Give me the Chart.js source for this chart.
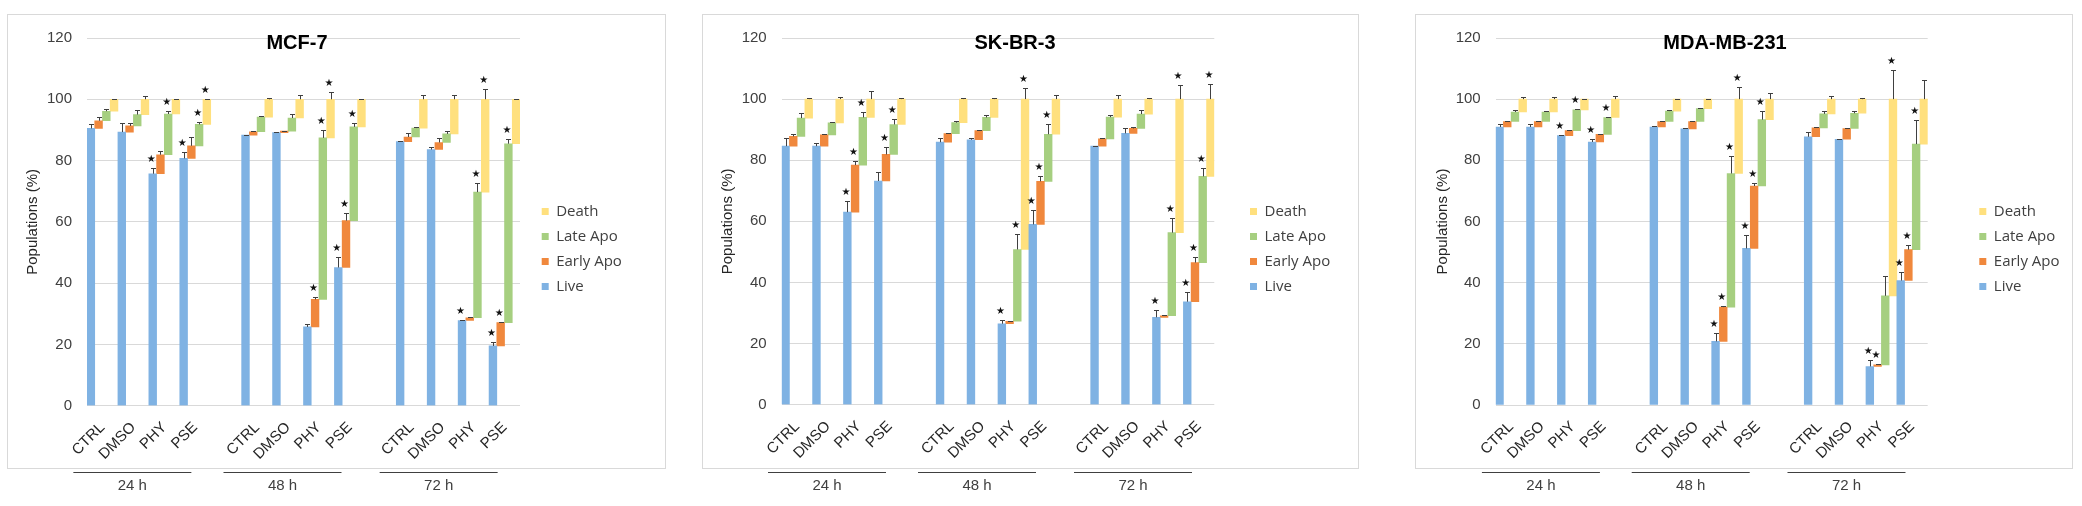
<!DOCTYPE html>
<html><head><meta charset="utf-8">
<script src="https://cdn.jsdelivr.net/npm/chart.js@4.4.1/dist/chart.umd.min.js"></script>
<style>
html,body{margin:0;padding:0;background:#fff;}
body{width:2082px;height:506px;position:relative;overflow:hidden;}
canvas{position:absolute;top:14px;}
</style></head><body>
<canvas id="c1" style="left:7px" width="659" height="492"></canvas>
<canvas id="c2" style="left:702px" width="657" height="492"></canvas>
<canvas id="c3" style="left:1415px" width="658" height="492"></canvas>
<script>
// ---------- labels ----------
const categories = ['CTRL', 'DMSO', 'PHY', 'PSE'];
const timeLabels = ['24 h', '48 h', '72 h'];
const seriesNames = ['Live', 'Early Apo', 'Late Apo', 'Death'];
const yTicks = [0, 20, 40, 60, 80, 100, 120];
const panelTitles = ['MCF-7', 'SK-BR-3', 'MDA-MB-231'];

// ---------- MCF-7 (% of population; 24h CTRL,DMSO,PHY,PSE | 48h ... | 72h ...) ----------
const mcfLive  = [90.5, 89.3, 75.7, 80.7, 88.3, 89.1, 25.7, 45.1, 86.2, 83.6, 27.8, 19.5];
const mcfEarly = [2.5, 2.0, 6.2, 4.1, 1.1, 0.5, 9.0, 15.3, 1.5, 2.3, 0.9, 7.6];
const mcfLate  = [3.1, 3.7, 13.3, 7.0, 4.8, 4.3, 52.7, 30.6, 2.9, 2.8, 41.0, 58.4];
const mcfDeath = [3.9, 5.0, 4.8, 8.2, 5.8, 6.1, 12.6, 9.0, 9.4, 11.3, 30.3, 14.5];
const mcfErrLive  = [1.4, 3.0, 2.0, 2.1, 0.2, 0.2, 1.0, 3.4, 0.2, 0.8, 0.2, 1.2];
const mcfErrEarly = [1.2, 1.0, 1.1, 2.8, 0.3, 0.2, 0.7, 2.5, 1.4, 1.6, 0.2, 0.2];
const mcfErrLate  = [0.6, 1.4, 1.0, 0.8, 0.2, 1.3, 2.6, 1.4, 0.4, 0.8, 3.1, 1.6];
const mcfErrDeath = [0.1, 1.0, 0.1, 0.1, 0.4, 1.4, 2.3, 0.2, 1.3, 1.3, 3.3, 0.1];
const mcfSigLive  = [0, 0, 1, 1, 0, 0, 0, 1, 0, 0, 1, 1];
const mcfSigEarly = [0, 0, 0, 0, 0, 0, 1, 1, 0, 0, 0, 1];
const mcfSigLate  = [0, 0, 1, 1, 0, 0, 1, 1, 0, 0, 1, 1];
const mcfSigDeath = [0, 0, 0, 1, 0, 0, 1, 0, 0, 0, 1, 0];

// ---------- SK-BR-3 ----------
const skLive  = [84.6, 84.6, 63.0, 73.2, 85.9, 86.7, 26.5, 59.0, 84.6, 88.8, 28.6, 33.7];
const skEarly = [3.2, 3.7, 15.4, 8.7, 2.8, 3.0, 0.8, 14.1, 2.4, 1.6, 0.5, 12.8];
const skLate  = [6.0, 3.9, 15.6, 9.8, 3.6, 4.3, 23.5, 15.4, 7.1, 4.7, 27.2, 28.2];
const skDeath = [6.2, 7.8, 6.0, 8.3, 7.7, 6.0, 49.2, 11.5, 5.9, 4.9, 43.7, 25.3];
const skErrLive  = [2.6, 1.0, 3.5, 2.8, 1.3, 0.6, 1.1, 4.8, 0.2, 1.9, 2.5, 3.1];
const skErrEarly = [0.7, 0.2, 1.5, 2.4, 0.3, 0.2, 0.2, 1.6, 0.2, 0.5, 0.2, 1.8];
const skErrLate  = [1.8, 0.2, 1.8, 1.8, 0.5, 0.8, 4.9, 3.2, 0.6, 1.4, 4.8, 2.9];
const skErrDeath = [0.5, 0.7, 2.8, 0.5, 0.5, 0.5, 3.7, 1.3, 1.3, 0.5, 4.6, 5.0];
const skSigLive  = [0, 0, 1, 0, 0, 0, 1, 1, 0, 0, 1, 1];
const skSigEarly = [0, 0, 1, 1, 0, 0, 0, 1, 0, 0, 0, 1];
const skSigLate  = [0, 0, 1, 1, 0, 0, 1, 1, 0, 0, 1, 1];
const skSigDeath = [0, 0, 0, 0, 0, 0, 1, 0, 0, 0, 1, 1];

// ---------- MDA-MB-231 ----------
const mdaLive  = [90.9, 90.9, 88.1, 86.0, 90.9, 90.3, 20.8, 51.2, 87.7, 86.9, 12.6, 40.7];
const mdaEarly = [1.8, 1.8, 1.6, 2.5, 1.8, 2.4, 11.2, 20.4, 2.9, 3.5, 0.5, 10.1];
const mdaLate  = [3.1, 3.1, 6.8, 5.5, 3.4, 4.2, 43.7, 21.7, 4.6, 5.0, 22.6, 34.5];
const mdaDeath = [4.2, 4.2, 3.5, 6.0, 3.9, 3.1, 24.3, 6.7, 4.8, 4.6, 64.3, 14.7];
const mdaErrLive  = [1.1, 1.1, 0.2, 1.1, 0.4, 0.2, 2.6, 4.5, 1.5, 0.2, 2.1, 2.7];
const mdaErrEarly = [0.2, 0.2, 0.2, 0.2, 0.2, 0.3, 0.3, 0.9, 0.2, 0.2, 0.2, 1.6];
const mdaErrLate  = [0.7, 0.2, 0.2, 0.3, 0.2, 0.2, 5.8, 2.8, 1.0, 0.6, 6.4, 8.0];
const mdaErrDeath = [0.7, 0.7, 0.2, 0.9, 0.2, 0.2, 3.9, 2.1, 0.9, 0.3, 9.6, 6.4];
const mdaSigLive  = [0, 0, 1, 1, 0, 0, 1, 1, 0, 0, 1, 1];
const mdaSigEarly = [0, 0, 0, 0, 0, 0, 1, 1, 0, 0, 1, 1];
const mdaSigLate  = [0, 0, 1, 1, 0, 0, 1, 1, 0, 0, 0, 1];
const mdaSigDeath = [0, 0, 0, 0, 0, 0, 1, 0, 0, 0, 1, 0];

// ---------- styles ----------
const seriesColors = ['#7fb2e3', '#f0883d', '#a6cf80', '#ffe07e'];
const AXIS_FONT = "'Liberation Sans', Arial, sans-serif";
const LEGEND_FONT = "'Open Sans', sans-serif";

// x labels with a blank slot between time groups
const xLabels = [];
const groupSlots = [];
timeLabels.forEach((t, g) => {
  const slots = [];
  categories.forEach(c => { slots.push(xLabels.length); xLabels.push(c); });
  groupSlots.push(slots);
  if (g < timeLabels.length - 1) xLabels.push('');
});
function expand(arr) {
  const out = new Array(xLabels.length).fill(null);
  let k = 0;
  groupSlots.forEach(slots => slots.forEach(s => { out[s] = arr[k++]; }));
  return out;
}

const errPlugin = {
  id: 'errbars',
  afterDatasetsDraw(chart) {
    const ctx = chart.ctx, ys = chart.scales.y;
    ctx.save();
    chart.data.datasets.forEach((ds, di) => {
      const meta = chart.getDatasetMeta(di);
      meta.data.forEach((el, j) => {
        const v = ds.data[j];
        if (!v) return;
        const hi = v[1];
        const e = ds.errs[j];
        const x = Math.round(el.x) + 0.5;
        const yT = ys.getPixelForValue(hi);
        const yE = Math.round(ys.getPixelForValue(hi + e)) + 0.5;
        ctx.strokeStyle = '#404040';
        ctx.lineWidth = 1;
        ctx.beginPath();
        ctx.moveTo(x, yT);
        ctx.lineTo(x, yE);
        ctx.moveTo(x - 2.5, yE);
        ctx.lineTo(x + 2.5, yE);
        ctx.stroke();
        if (ds.sig[j]) {
          ctx.fillStyle = '#111';
          ctx.font = "10px 'DejaVu Sans', sans-serif";
          ctx.textAlign = 'center';
          ctx.textBaseline = 'middle';
          ctx.fillText('★', el.x - 1.5, yE - 9);
        }
      });
    });
    ctx.restore();
  }
};

const decoPlugin = {
  id: 'deco',
  afterDraw(chart) {
    const o = chart.options.plugins.deco;
    const ctx = chart.ctx, xs = chart.scales.x;
    ctx.save();
    // panel border
    ctx.strokeStyle = '#d9d9d9';
    ctx.lineWidth = 1;
    ctx.strokeRect(0.5, 0.5, chart.width - 1, 454);
    // title
    ctx.fillStyle = '#000';
    ctx.font = "bold 20px " + AXIS_FONT;
    ctx.textAlign = 'center';
    ctx.textBaseline = 'middle';
    ctx.fillText(o.title, o.titleX, 29);
    // time group labels
    const offs = [-16.5, -21, -19.5];
    groupSlots.forEach((slots, g) => {
      const c = (xs.getPixelForValue(slots[0]) + xs.getPixelForValue(slots[slots.length - 1])) / 2 + offs[g];
      ctx.strokeStyle = '#404040';
      ctx.lineWidth = 1.2;
      ctx.beginPath();
      ctx.moveTo(c - 59, 458.5);
      ctx.lineTo(c + 59, 458.5);
      ctx.stroke();
      ctx.fillStyle = '#404040';
      ctx.font = "15px " + AXIS_FONT;
      ctx.fillText(timeLabels[g], c, 472);
    });
    ctx.restore();
  }
};

function measure(text, font) {
  const c = document.createElement('canvas').getContext('2d');
  c.font = font;
  return c.measureText(text).width;
}

function buildPanel(id, title, pops, errs, sigs, cfg) {
  const canvas = document.getElementById(id);
  const W = canvas.width;
  // cumulative floating ranges
  const cum = pops[0].map(() => 0);
  const datasets = pops.map((arr, si) => {
    const ranges = arr.map((v, j) => { const lo = cum[j]; cum[j] += v; return [lo, +(lo + v).toFixed(2)]; });
    return {
      label: seriesNames[si],
      data: expand(ranges),
      errs: expand(errs[si]),
      sig: expand(sigs[si]),
      backgroundColor: seriesColors[si],
      borderWidth: 0,
      barPercentage: 1,
      categoryPercentage: 1
    };
  });
  const legPad = 10, boxW = 7, fSize = 15;
  const legFont = fSize + "px " + LEGEND_FONT;
  const maxText = Math.max(...seriesNames.map(s => measure(s, legFont)));
  const legendW = legPad + boxW + fSize / 2 + maxText + 10;
  const legLeft = cfg.boxX - legPad;
  const gapW = legLeft - cfg.right;
  const padRight = W - legLeft - legendW;

  new Chart(canvas, {
    type: 'bar',
    data: { labels: xLabels, datasets },
    plugins: [errPlugin, decoPlugin],
    options: {
      responsive: false,
      animation: false,
      events: [],
      layout: { padding: { left: 0, right: padRight, top: 15, bottom: 37 } },
      scales: {
        x: {
          type: 'category',
          offset: true,
          grid: { display: false, drawTicks: false },
          border: { display: false },
          ticks: { autoSkip: false, minRotation: 45, maxRotation: 45, padding: 13, color: '#262626',
                   font: { family: AXIS_FONT, size: 15 } },
          afterFit(s) { s.height = cfg.xh; }
        },
        y: {
          min: 0, max: 120,
          afterBuildTicks(s) { s.ticks = yTicks.map(v => ({ value: v })); },
          grid: { color: '#d9d9d9', drawTicks: false },
          border: { display: false },
          ticks: { padding: 15, color: '#404040', font: { family: AXIS_FONT, size: 15 } },
          title: { display: true, text: 'Populations (%)', color: '#262626',
                   font: { family: AXIS_FONT, size: 15 }, padding: { top: cfg.titlePad, bottom: 0 } },
          afterFit(s) { s.width = cfg.yw; }
        },
        gap: {
          type: 'linear', axis: 'y', position: 'right', display: true,
          grid: { display: false }, border: { display: false }, ticks: { display: false },
          afterFit(s) { s.width = gapW; }
        }
      },
      plugins: {
        legend: {
          position: 'right',
          reverse: true,
          labels: { boxWidth: boxW, boxHeight: 7, padding: legPad, color: '#404040',
                    font: { family: LEGEND_FONT, size: fSize } }
        },
        tooltip: { enabled: false },
        title: { display: false },
        deco: { title, titleX: cfg.titleX }
      }
    }
  });
}

buildPanel('c1', panelTitles[0],
  [mcfLive, mcfEarly, mcfLate, mcfDeath],
  [mcfErrLive, mcfErrEarly, mcfErrLate, mcfErrDeath],
  [mcfSigLive, mcfSigEarly, mcfSigLate, mcfSigDeath],
  { yw: 80, xh: 63.3, boxX: 534.7, right: 513, titleX: 290, titlePad: 17 });
buildPanel('c2', panelTitles[1],
  [skLive, skEarly, skLate, skDeath],
  [skErrLive, skErrEarly, skErrLate, skErrDeath],
  [skSigLive, skSigEarly, skSigLate, skSigDeath],
  { yw: 79.7, xh: 64.3, boxX: 548, right: 512.3, titleX: 313, titlePad: 17.3 });
buildPanel('c3', panelTitles[2],
  [mdaLive, mdaEarly, mdaLate, mdaDeath],
  [mdaErrLive, mdaErrEarly, mdaErrLate, mdaErrDeath],
  [mdaSigLive, mdaSigEarly, mdaSigLate, mdaSigDeath],
  { yw: 80.7, xh: 64, boxX: 564.3, right: 512.7, titleX: 310, titlePad: 18.7 });
</script>
</body></html>
